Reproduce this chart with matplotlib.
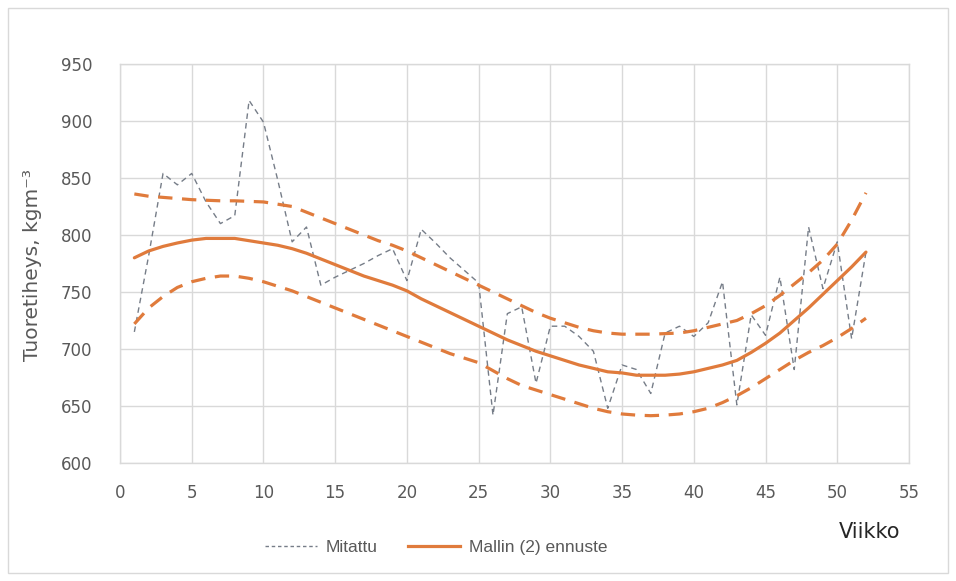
import matplotlib
matplotlib.use("Agg")
import matplotlib.pyplot as plt
from matplotlib.patches import Rectangle
from matplotlib.lines import Line2D

weeks = list(range(1, 53))
measured = [715, 782, 854, 844, 854, 829, 810, 817, 918, 899, 848, 794, 807, 756,
            763, 769, 775, 782, 788, 760, 805, 793, 780, 769, 758, 642, 731, 737,
            670, 720, 720, 711, 698, 648, 686, 682, 661, 714, 720, 711, 723, 759,
            651, 730, 712, 763, 682, 807, 753, 794, 709, 785]
model = [780, 786, 790, 793, 795.5, 797, 797, 797, 795, 793, 791, 788, 784, 779,
         774, 769, 764, 760, 756, 751, 744, 738, 732, 726, 720, 714, 708, 703,
         698, 694, 690, 686, 683, 680, 679, 677, 677, 677, 678, 680, 683, 686,
         690, 697, 705, 714, 725, 736, 748, 760, 772, 785]
upper = [836, 834, 833, 832, 831, 830.5, 830, 830, 829.5, 829, 827, 825, 820, 815,
         810, 805, 800, 795, 791, 786, 780, 774, 768, 762, 756, 750, 744, 738,
         732, 727, 723, 719, 716, 714, 713, 713, 713, 713.5, 714, 716, 719, 722,
         725, 731, 738, 747, 757, 767, 778, 792, 813, 837]
lower = [722, 736, 746, 754, 759, 762, 764, 764, 762, 759, 755, 751, 746, 741,
         736, 731, 726, 721, 716, 711, 706, 701, 696, 692, 688, 681, 674, 668,
         664, 660, 656, 652, 648, 645, 643, 642, 641.5, 642, 643, 645, 648, 653,
         659, 666, 674, 682, 690, 697, 703, 710, 718, 727]
x_ticks = list(range(0, 56, 5))
y_ticks = list(range(600, 951, 50))

W, H = 956, 581
fig = plt.figure(figsize=(W / 100, H / 100), dpi=100)
fig.patches.append(Rectangle((8 / W, 8 / H), 940 / W, 565 / H, transform=fig.transFigure,
                             fill=False, edgecolor="#d9d9d9", linewidth=1))

ax = fig.add_axes([120 / W, 1 - 463 / H, (909 - 120) / W, (463 - 64) / H])
orange = "#E07B3C"
gray = "#767d88"

ax.plot(weeks, measured, color=gray, linewidth=1.0, dashes=(4, 3))
ax.plot(weeks, upper, color=orange, linewidth=2.3, dashes=(4.5, 3))
ax.plot(weeks, lower, color=orange, linewidth=2.3, dashes=(4.5, 3))
ax.plot(weeks, model, color=orange, linewidth=2.3, solid_capstyle="round")

ax.set_xlim(0, 55)
ax.set_ylim(600, 950)
ax.set_xticks(x_ticks)
ax.set_yticks(y_ticks)
ax.grid(True, color="#d9d9d9", linewidth=1)
ax.set_axisbelow(True)
for s in ax.spines.values():
    s.set_color("#d9d9d9")
    s.set_linewidth(1)
ax.tick_params(length=0, labelsize=12, labelcolor="#595959")
ax.tick_params(axis="x", pad=15)
ax.tick_params(axis="y", pad=20)
for lab in ax.get_xticklabels() + ax.get_yticklabels():
    lab.set_family(["DejaVu Sans"])

fig.text(33 / W, 1 - 265 / H, "Tuoretiheys, kgm\u207b\u00b3", rotation=90, ha="center", va="center",
         fontsize=14.5, color="#595959", family=["DejaVu Sans"])
fig.text(870 / W, 1 - 532 / H, "Viikko", ha="center", va="center", fontsize=15,
         color="#262626", family=["DejaVu Sans"])

handles = [Line2D([], [], color=gray, linewidth=1.0, dashes=(2.5, 2)),
           Line2D([], [], color=orange, linewidth=2.3)]
leg = fig.legend(handles, ["Mitattu", "Mallin (2) ennuste"], loc="center",
                 bbox_to_anchor=(436 / W, 1 - 547 / H), ncol=2, frameon=False,
                 handlelength=3.0, handletextpad=0.5, columnspacing=1.75,
                 prop={"family": ["Liberation Sans Narrow", "Liberation Sans", "DejaVu Sans"], "size": 12.5})
for t in leg.get_texts():
    t.set_color("#595959")

fig.savefig("out.png", dpi=100)
